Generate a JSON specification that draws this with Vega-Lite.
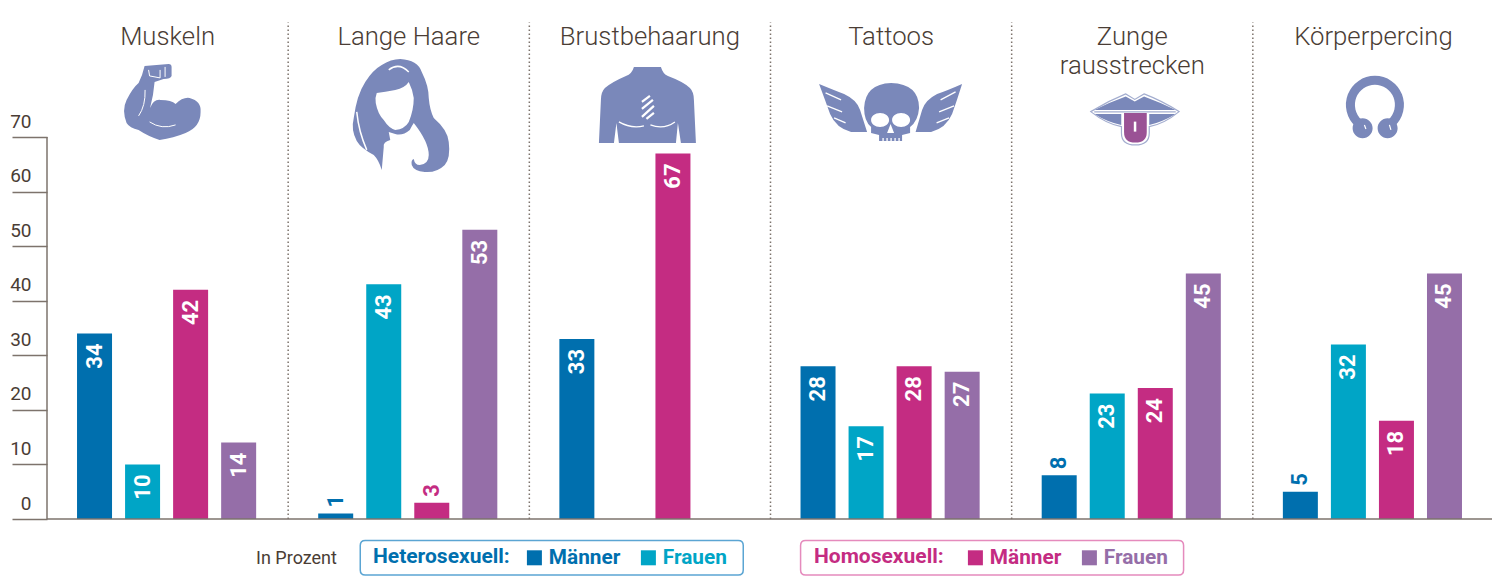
{
"$schema":"https://vega.github.io/schema/vega-lite/v6.json",
"autosize":"none","width":1447,"height":581,
"padding":{"left":47,"top":0,"right":0,"bottom":0},
"background":"white",
"config":{"view":{"stroke":null},"font":"Roboto"},
"datasets":{
"werte":[
{"kat":"Muskeln","gruppe":"Hetero Männer","orientierung":"Heterosexuell","geschlecht":"Männer","wert":34},
{"kat":"Muskeln","gruppe":"Hetero Frauen","orientierung":"Heterosexuell","geschlecht":"Frauen","wert":10},
{"kat":"Muskeln","gruppe":"Homo Männer","orientierung":"Homosexuell","geschlecht":"Männer","wert":42},
{"kat":"Muskeln","gruppe":"Homo Frauen","orientierung":"Homosexuell","geschlecht":"Frauen","wert":14},
{"kat":"Lange Haare","gruppe":"Hetero Männer","orientierung":"Heterosexuell","geschlecht":"Männer","wert":1},
{"kat":"Lange Haare","gruppe":"Hetero Frauen","orientierung":"Heterosexuell","geschlecht":"Frauen","wert":43},
{"kat":"Lange Haare","gruppe":"Homo Männer","orientierung":"Homosexuell","geschlecht":"Männer","wert":3},
{"kat":"Lange Haare","gruppe":"Homo Frauen","orientierung":"Homosexuell","geschlecht":"Frauen","wert":53},
{"kat":"Brustbehaarung","gruppe":"Hetero Männer","orientierung":"Heterosexuell","geschlecht":"Männer","wert":33},
{"kat":"Brustbehaarung","gruppe":"Homo Männer","orientierung":"Homosexuell","geschlecht":"Männer","wert":67},
{"kat":"Tattoos","gruppe":"Hetero Männer","orientierung":"Heterosexuell","geschlecht":"Männer","wert":28},
{"kat":"Tattoos","gruppe":"Hetero Frauen","orientierung":"Heterosexuell","geschlecht":"Frauen","wert":17},
{"kat":"Tattoos","gruppe":"Homo Männer","orientierung":"Homosexuell","geschlecht":"Männer","wert":28},
{"kat":"Tattoos","gruppe":"Homo Frauen","orientierung":"Homosexuell","geschlecht":"Frauen","wert":27},
{"kat":"Zunge\nrausstrecken","gruppe":"Hetero Männer","orientierung":"Heterosexuell","geschlecht":"Männer","wert":8},
{"kat":"Zunge\nrausstrecken","gruppe":"Hetero Frauen","orientierung":"Heterosexuell","geschlecht":"Frauen","wert":23},
{"kat":"Zunge\nrausstrecken","gruppe":"Homo Männer","orientierung":"Homosexuell","geschlecht":"Männer","wert":24},
{"kat":"Zunge\nrausstrecken","gruppe":"Homo Frauen","orientierung":"Homosexuell","geschlecht":"Frauen","wert":45},
{"kat":"Körperpercing","gruppe":"Hetero Männer","orientierung":"Heterosexuell","geschlecht":"Männer","wert":5},
{"kat":"Körperpercing","gruppe":"Hetero Frauen","orientierung":"Heterosexuell","geschlecht":"Frauen","wert":32},
{"kat":"Körperpercing","gruppe":"Homo Männer","orientierung":"Homosexuell","geschlecht":"Männer","wert":18},
{"kat":"Körperpercing","gruppe":"Homo Frauen","orientierung":"Homosexuell","geschlecht":"Frauen","wert":45}
],
"kategorien":[{"kat":"Muskeln"},{"kat":"Lange Haare"},{"kat":"Brustbehaarung"},{"kat":"Tattoos"},{"kat":"Zunge\nrausstrecken"},{"kat":"Körperpercing"}],
"ikon":[{"ikon":"symbol"}]
},
"resolve":{"scale":{"color":"independent"}},
"layer":[
{"data":{"name":"ikon"},"mark":{"type":"rule","stroke":"#7d736c","strokeWidth":1.5},
 "encoding":{"x":{"datum":"Muskeln","bandPosition":0,"type":"nominal","axis":null,"scale":{"domain":["Muskeln","Lange Haare","Brustbehaarung","Tattoos","Zunge\nrausstrecken","Körperpercing"],"paddingInner":0,"paddingOuter":0}},
 "y":{"datum":0,"type":"quantitative","scale":{"domain":[-11.36,95.11],"nice":false,"zero":false},
  "axis":{"values":[0,10,20,30,40,50,60,70],"domain":false,"grid":false,"tickSize":35,"tickColor":"#7d736c","tickWidth":1.5,"labelFontSize":19,"labelFontWeight":400,"labelColor":"#4a3d35","labelPadding":-19,"labelBaseline":"alphabetic","labelOffset":-10,"labelAlign":"right","title":"In Prozent","titleAngle":0,"titleX":249,"titleY":567,"titleAlign":"center","titleFontSize":18,"titleFontWeight":400,"titleColor":"#4a3d35","format":"d"}},
 "y2":{"datum":70}}},
{"data":{"name":"kategorien"},"transform":[{"filter":"datum.kat !== 'Muskeln'"}],"mark":{"type":"rule","stroke":"#7d736c","strokeWidth":1.5,"strokeDash":[1.5,2.5]},
 "encoding":{"x":{"field":"kat","type":"nominal","bandPosition":0,"axis":null},"y":{"datum":0,"type":"quantitative"},"y2":{"datum":91}}},
{"data":{"name":"werte"},"transform":[{"filter":"datum.orientierung === 'Heterosexuell'"}],"mark":{"type":"bar","width":35},
 "encoding":{"x":{"field":"kat","type":"nominal","axis":null},
 "xOffset":{"field":"gruppe","type":"nominal","scale":{"domain":["Hetero Männer","Hetero Frauen","Homo Männer","Homo Frauen"],"paddingInner":0.27,"paddingOuter":0.645,"align":0.484}},
 "y":{"field":"wert","type":"quantitative","stack":null},
 "color":{"field":"geschlecht","type":"nominal","scale":{"domain":["Männer","Frauen"],"range":["#006fae","#00a5c6"]},
  "legend":{"orient":"none","legendX":326,"legendY":547,"direction":"horizontal","title":"Heterosexuell:","titleOrient":"left","titleFontSize":21,"titleFontWeight":700,"titleColor":"#006fae","titlePadding":14,"padding":0,"symbolType":"square","symbolSize":225,"symbolStrokeWidth":0,"symbolOpacity":1,"labelFontSize":20.8,"labelFontWeight":700,"labelOffset":4,"columnPadding":17,"labelColor":{"expr":"datum.value === 'Männer' ? '#006fae' : '#00a5c6'"},"encoding":{"title":{"update":{"dy":{"value":2}}}}}}}},
{"data":{"name":"werte"},"transform":[{"filter":"datum.orientierung === 'Homosexuell'"}],"mark":{"type":"bar","width":35},
 "encoding":{"x":{"field":"kat","type":"nominal","axis":null},
 "xOffset":{"field":"gruppe","type":"nominal"},
 "y":{"field":"wert","type":"quantitative","stack":null},
 "color":{"field":"geschlecht","type":"nominal","scale":{"domain":["Männer","Frauen"],"range":["#c42c82","#956ea8"]},
  "legend":{"orient":"none","legendX":767,"legendY":547,"direction":"horizontal","title":"Homosexuell:","titleOrient":"left","titleFontSize":21,"titleFontWeight":700,"titleColor":"#c42c82","titlePadding":21,"padding":0,"symbolType":"square","symbolSize":225,"symbolStrokeWidth":0,"symbolOpacity":1,"labelFontSize":20.8,"labelFontWeight":700,"labelOffset":4,"columnPadding":17,"labelColor":{"expr":"datum.value === 'Männer' ? '#c42c82' : '#956ea8'"},"encoding":{"title":{"update":{"dy":{"value":2}}}}}}}},
{"data":{"name":"werte"},"transform":[{"filter":"datum.wert >= 10"}],"mark":{"type":"text","angle":270,"align":"right","baseline":"middle","dx":-10,"fontSize":22,"fontWeight":700,"fill":"white"},
 "encoding":{"x":{"field":"kat","type":"nominal","axis":null},"xOffset":{"field":"gruppe","type":"nominal"},"y":{"field":"wert","type":"quantitative"},"text":{"field":"wert","type":"quantitative","format":"d"}}},
{"data":{"name":"werte"},"transform":[{"filter":"datum.wert < 10 && datum.orientierung === 'Heterosexuell'"}],"mark":{"type":"text","angle":270,"align":"left","baseline":"middle","dx":6,"fontSize":22,"fontWeight":700,"fill":"#006fae"},
 "encoding":{"x":{"field":"kat","type":"nominal","axis":null},"xOffset":{"field":"gruppe","type":"nominal"},"y":{"field":"wert","type":"quantitative"},"text":{"field":"wert","type":"quantitative","format":"d"}}},
{"data":{"name":"werte"},"transform":[{"filter":"datum.wert < 10 && datum.orientierung === 'Homosexuell'"}],"mark":{"type":"text","angle":270,"align":"left","baseline":"middle","dx":6,"fontSize":22,"fontWeight":700,"fill":"#c42c82"},
 "encoding":{"x":{"field":"kat","type":"nominal","axis":null},"xOffset":{"field":"gruppe","type":"nominal"},"y":{"field":"wert","type":"quantitative"},"text":{"field":"wert","type":"quantitative","format":"d"}}},
{"data":{"name":"ikon"},"mark":{"type":"rule","stroke":"#7d736c","strokeWidth":1.5},"encoding":{"y":{"datum":0,"type":"quantitative"}}},
{"data":{"name":"kategorien"},"mark":{"type":"text","align":"center","baseline":"top","fontSize":25.7,"fontWeight":300,"fill":"#4a3d35","lineBreak":"\n","lineHeight":29},
 "encoding":{"x":{"field":"kat","type":"nominal","axis":null},"y":{"datum":90.6,"type":"quantitative"},"text":{"field":"kat","type":"nominal"}}},
{"data":{"name":"ikon"},"encoding":{"y":{"datum":76.8,"type":"quantitative"}},
 "layer":[
 {"mark":{"type":"point","filled":false,"size":4,"opacity":1,"stroke":"#5ba5d3","strokeWidth":1.5,"shape":"M-43.5,440.5 H329.5 Q334.5,440.5 334.5,445.5 V470 Q334.5,475 329.5,475 H-43.5 Q-48.5,475 -48.5,470 V445.5 Q-48.5,440.5 -43.5,440.5Z"},"encoding":{"x":{"datum":"Lange Haare","type":"nominal","axis":null}}},
 {"mark":{"type":"point","filled":false,"size":4,"opacity":1,"stroke":"#e58bbd","strokeWidth":1.5,"shape":"M-85.5,440.5 H287.5 Q292.5,440.5 292.5,445.5 V470 Q292.5,475 287.5,475 H-85.5 Q-90.5,475 -90.5,470 V445.5 Q-90.5,440.5 -85.5,440.5Z"},"encoding":{"x":{"datum":"Tattoos","type":"nominal","axis":null}}},
 {"mark":{"type":"point","filled":true,"size":4,"opacity":1,"fill":"#7a88ba","shape":"M-23,-34 L1,-36 Q4,-36 4,-33 L4,-24 Q3,-21 -4,-21 L-13,-18 Q-14,-5 -17.5,8 Q-14,-1 -7,0 Q4,0 8,4 Q15,-3 22,-2 Q34,1 33,12 Q33,27 18,33 Q6,38 -8,40 Q-20,36 -29,30 Q-38,28 -41,23 Q-46,10 -41,0 Q-35,-12 -29,-17 Q-25,-25 -23,-34Z"},"encoding":{"x":{"datum":"Muskeln","type":"nominal","axis":null}}},
 {"mark":{"type":"point","filled":false,"size":4,"opacity":1,"stroke":"white","strokeWidth":1,"shape":"M-22.5,-10 Q-22,6 -29,16 M-18,22 Q-6,30 8,25 M-19,-30 L-18,-24 L-7.5,-22 L-7.5,-30 M-2.5,-33 L-2.5,-23"},"encoding":{"x":{"datum":"Muskeln","type":"nominal","axis":null}}},
 {"mark":{"type":"point","filled":true,"size":4,"opacity":1,"fill":"#7a88ba","shape":"M-8.5,-41 Q9,-40 13,-28 Q20,-14 20,-2 Q21,10 25,18 Q39,30 40,42 Q42,58 36,65 Q28,73 16,72 Q5,71 3,65 Q2,60 5,59 Q6,65 11,65 Q20,64 20,55 Q20,42 5,23 Q3,26 1,30 Q-6,36 -13.5,34 L-20,32 L-18.5,40 Q-26,42 -25,47 L-27,70 Q-30,60 -35,55 Q-48,48 -52,41 Q-58,30 -55,18 Q-52,-5 -43.5,-18 Q-36,-30 -27,-35 Q-18,-41 -8.5,-41Z M-32,-7 Q-34,-2 -33,3 Q-31,14 -25,20 Q-20,28 -13.5,30 Q-4,29 0,22 Q5,10 5,-2 Q4,-10 0,-18 Q-4,-12 -13.5,-10 Q-24,-8 -32,-7Z"},"encoding":{"x":{"datum":"Lange Haare","type":"nominal","axis":null}}},
 {"mark":{"type":"point","filled":false,"size":4,"opacity":1,"stroke":"white","strokeWidth":1.5,"shape":"M-20,-30 Q-10,-38 0,-28 M-52,12 Q-50,32 -42,50"},"encoding":{"x":{"datum":"Lange Haare","type":"nominal","axis":null}}},
 {"mark":{"type":"point","filled":true,"size":4,"opacity":1,"fill":"#7a88ba","shape":"M-16,-33 L11,-33 Q13,-26 18,-24 Q34,-18 40,-12 Q44,-8 44,0 L46,43 L31,43 L28,23 L26,43 L-31,43 L-33.5,23 L-36,43 L-51,43 L-49,0 Q-49,-8 -45,-12 Q-38,-18 -24,-24 Q-18,-26 -16,-33Z"},"encoding":{"x":{"datum":"Brustbehaarung","type":"nominal","axis":null}}},
 {"mark":{"type":"point","filled":false,"size":4,"opacity":1,"stroke":"white","strokeWidth":1.3,"shape":"M-31,22 Q-19,29 -6,26 M0.5,25 Q14,30 25,22"},"encoding":{"x":{"datum":"Brustbehaarung","type":"nominal","axis":null}}},
 {"mark":{"type":"point","filled":false,"size":4,"opacity":1,"stroke":"white","strokeWidth":2.2,"shape":"M-8,2 L0,-4 M-8,9 L3,0 M-8,17 L4,6 M-3.5,19 L4,13"},"encoding":{"x":{"datum":"Brustbehaarung","type":"nominal","axis":null}}},
 {"mark":{"type":"point","filled":true,"size":4,"opacity":1,"fill":"#7a88ba","shape":"M0,-17 Q28,-16 28,8 Q27,21 19,27 L19,33 L11,35 L11,41 L-12,41 L-12,35 L-20,33 L-20,27 Q-27,21 -27,8 Q-26,-16 0,-17Z M-72,-16 Q-55,-9 -47,-6 Q-34,0 -31,10 L-24,32 L-40,32 Q-55,28 -61,14 Q-66,0 -72,-16Z M71,-16 Q55,-9 46,-6 Q34,0 31,10 L24.5,32 L40,32 Q55,28 61,14 Q66,0 71,-16Z"},"encoding":{"x":{"datum":"Tattoos","type":"nominal","axis":null}}},
 {"mark":{"type":"point","filled":true,"size":4,"opacity":1,"fill":"white","shape":"M-20,20 a9,7 0 1,0 18,0 a9,7 0 1,0 -18,0Z M1,20 a9,7 0 1,0 18,0 a9,7 0 1,0 -18,0Z M-0.5,24 L-4,33 L3,33Z"},"encoding":{"x":{"datum":"Tattoos","type":"nominal","axis":null}}},
 {"mark":{"type":"point","filled":false,"size":4,"opacity":1,"stroke":"white","strokeWidth":1.3,"shape":"M-65.5,-7 L-50,0 M-64,6 L-49,12 M-57,18 L-45.5,23 M49.5,0 L64.5,-8 M48,12 L63,6 M45.5,23 L58,18 M-8,38 V42 M-4,38 V42 M0,38 V42 M4,38 V42 M8,38 V42"},"encoding":{"x":{"datum":"Tattoos","type":"nominal","axis":null}}},
 {"mark":{"type":"point","filled":true,"size":4,"opacity":1,"fill":"#7a88ba","shape":"M-38,10 Q-23,2.7 -6.5,-3.3 L2.5,1.7 L11.8,-3.3 Q28,2.7 43.5,10Z M-38,14 L-11,14 L-11,25 Q-25,22 -38,14Z M17,14 L43.5,14 Q30,22 17,25Z"},"encoding":{"x":{"datum":"Zunge\nrausstrecken","type":"nominal","axis":null}}},
 {"mark":{"type":"point","filled":false,"size":4,"opacity":1,"stroke":"#a3adcf","strokeWidth":1.2,"shape":"M-41.5,11.7 Q-24,1 -6.5,-6 L2.5,-0.5 L11.8,-6 Q30,1 46.8,11.7 Q32,24 17,26.7 L17,33 Q17,45 3,45 Q-10.8,45 -10.8,33 L-10.8,26.7 Q-26,24 -41.5,11.7Z M-38,12 L43.5,12"},"encoding":{"x":{"datum":"Zunge\nrausstrecken","type":"nominal","axis":null}}},
 {"mark":{"type":"point","filled":true,"size":4,"opacity":1,"fill":"#9a5295","shape":"M-8.2,13 L14.5,13 L14.5,32 Q14.5,42.7 3,42.7 Q-8.2,42.7 -8.2,32Z"},"encoding":{"x":{"datum":"Zunge\nrausstrecken","type":"nominal","axis":null}}},
 {"mark":{"type":"point","filled":false,"size":4,"opacity":1,"stroke":"white","strokeWidth":2.5,"shape":"M2.8,21.7 L2.8,31.7"},"encoding":{"x":{"datum":"Zunge\nrausstrecken","type":"nominal","axis":null}}},
 {"mark":{"type":"point","filled":false,"size":4,"opacity":1,"stroke":"#7a88ba","strokeWidth":9,"shape":"M-15,23 A24.5,24.5 0 1,1 18,23"},"encoding":{"x":{"datum":"Körperpercing","type":"nominal","axis":null}}},
 {"mark":{"type":"point","filled":true,"size":4,"opacity":1,"fill":"#7a88ba","shape":"M-20.8,28.3 a10,10 0 1,0 20,0 a10,10 0 1,0 -20,0Z M4.2,28.3 a10,10 0 1,0 20,0 a10,10 0 1,0 -20,0Z"},"encoding":{"x":{"datum":"Körperpercing","type":"nominal","axis":null}}},
 {"mark":{"type":"point","filled":false,"size":4,"opacity":1,"stroke":"white","strokeWidth":1.2,"shape":"M-9,25 L-7.5,29 M16,25 L17.5,30"},"encoding":{"x":{"datum":"Körperpercing","type":"nominal","axis":null}}}
 ]}
]
}
